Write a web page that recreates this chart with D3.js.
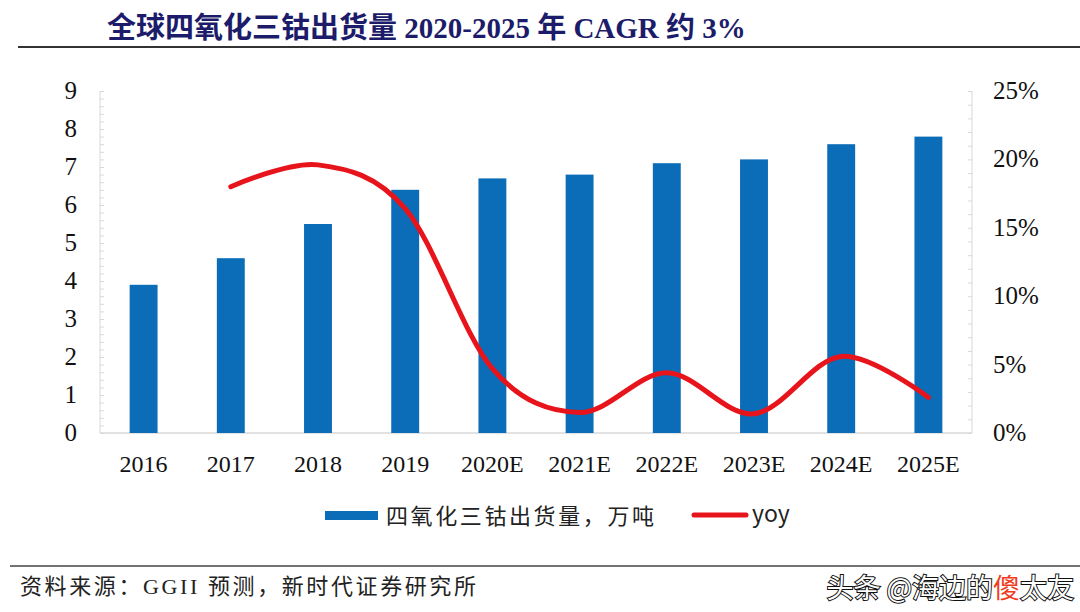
<!DOCTYPE html>
<html>
<head>
<meta charset="utf-8">
<script src="https://cdn.jsdelivr.net/npm/d3@7"></script>
<style>
  body { margin: 0; background: #fff; }
  svg { display: block; }
</style>
</head>
<body>
<svg id="chart" width="1080" height="612"></svg>
<script>
// data
const years = ["2016", "2017", "2018", "2019", "2020E", "2021E", "2022E", "2023E", "2024E", "2025E"];
const volume = [3.9, 4.6, 5.5, 6.4, 6.7, 6.8, 7.1, 7.2, 7.6, 7.8];
const yoyYears = ["2017", "2018", "2019", "2020E", "2021E", "2022E", "2023E", "2024E", "2025E"];
const yoy = [0.180, 0.196, 0.164, 0.047, 0.015, 0.044, 0.014, 0.056, 0.026];
const leftTicks = [0, 1, 2, 3, 4, 5, 6, 7, 8, 9];
const rightTicks = [0, 0.05, 0.10, 0.15, 0.20, 0.25];

const titleText = "全球四氧化三钴出货量 2020-2025 年 CAGR 约 3%";
const barLabel = "四氧化三钴出货量，万吨";
const lineLabel = "yoy";
const sourceText = "资料来源：GGII 预测，新时代证券研究所";

const serif = "'Liberation Serif', 'Times New Roman', 'Noto Sans CJK SC', serif";
const cjk = "'Noto Sans CJK SC', 'Liberation Serif', sans-serif";
const barColor = "#0b6cb8";
const lineColor = "#e8141c";
const axisColor = "#d9d9d9";

let svg = d3.select("#chart");

let plot = { left: 100, right: 972, top: 91, bottom: 433 };

let xScale = d3.scaleBand()
    .domain(years)
    .range([plot.left, plot.right])
    .paddingInner(0.68)
    .paddingOuter(0.34);

let yLeft = d3.scaleLinear()
    .domain([0, 9])
    .range([plot.bottom, plot.top]);

let yRight = d3.scaleLinear()
    .domain([0, 0.25])
    .range([plot.bottom, plot.top]);

// title + rule under it
svg.append("text")
    .attr("x", 107)
    .attr("y", 38)
    .text(titleText)
    .style("font-family", serif)
    .style("font-weight", "bold")
    .style("font-size", "29px")
    .style("fill", "#1c1c6a");
svg.append("line")
    .attr("x1", 18).attr("x2", 1080)
    .attr("y1", 47).attr("y2", 47)
    .attr("stroke", "#333")
    .attr("stroke-width", 2);

// left axis: line + minor ticks pointing inward
let leftAxis = svg.append("g")
    .attr("transform", "translate(" + plot.left + ",0)")
    .call(d3.axisRight(yLeft).tickValues(d3.range(0, 9.01, 0.2)).tickSize(4).tickFormat(""));
leftAxis.select(".domain").attr("stroke", axisColor).attr("d", "M0," + plot.bottom + "V" + plot.top);
leftAxis.selectAll(".tick line").attr("stroke", axisColor);

// right axis
let rightAxis = svg.append("g")
    .attr("transform", "translate(" + plot.right + ",0)")
    .call(d3.axisLeft(yRight).tickValues(d3.range(0, 0.2501, 0.01)).tickSize(4).tickFormat(""));
rightAxis.select(".domain").attr("stroke", axisColor).attr("d", "M0," + plot.bottom + "V" + plot.top);
rightAxis.selectAll(".tick line").attr("stroke", axisColor);

// bottom axis line
svg.append("line")
    .attr("x1", plot.left).attr("x2", plot.right)
    .attr("y1", plot.bottom).attr("y2", plot.bottom)
    .attr("stroke", axisColor)
    .attr("stroke-width", 1.5);

// tick labels
svg.selectAll(".leftLabel")
    .data(leftTicks)
    .enter()
    .append("text")
    .attr("x", 77)
    .attr("y", d => yLeft(d) + 8)
    .text(d => d)
    .style("font-family", serif)
    .style("font-size", "25px")
    .style("text-anchor", "end")
    .style("fill", "#111");

svg.selectAll(".rightLabel")
    .data(rightTicks)
    .enter()
    .append("text")
    .attr("x", 993)
    .attr("y", d => yRight(d) + 8)
    .text(d => Math.round(d * 100) + "%")
    .style("font-family", serif)
    .style("font-size", "25px")
    .style("fill", "#111");

svg.selectAll(".xLabel")
    .data(years)
    .enter()
    .append("text")
    .attr("x", d => xScale(d) + xScale.bandwidth() / 2)
    .attr("y", 472)
    .text(d => d)
    .style("font-family", serif)
    .style("font-size", "24px")
    .style("text-anchor", "middle")
    .style("fill", "#111");

// bars
svg.selectAll(".bar")
    .data(volume)
    .enter()
    .append("rect")
    .attr("x", (d, i) => xScale(years[i]))
    .attr("y", d => yLeft(d))
    .attr("width", xScale.bandwidth())
    .attr("height", d => yLeft(0) - yLeft(d))
    .attr("fill", barColor);

// smoothed yoy line
let line = d3.line()
    .x((d, i) => xScale(yoyYears[i]) + xScale.bandwidth() / 2)
    .y(d => yRight(d))
    .curve(d3.curveCardinal.tension(0));

svg.append("path")
    .datum(yoy)
    .attr("d", line)
    .attr("fill", "none")
    .attr("stroke", lineColor)
    .attr("stroke-width", 5)
    .attr("stroke-linecap", "round");

// legend
svg.append("rect")
    .attr("x", 325).attr("y", 511)
    .attr("width", 53).attr("height", 9)
    .attr("fill", barColor);
svg.append("text")
    .attr("x", 386).attr("y", 524)
    .text(barLabel)
    .style("font-family", cjk)
    .style("font-size", "22px")
    .style("letter-spacing", "2.6px")
    .style("fill", "#222");
svg.append("line")
    .attr("x1", 694).attr("x2", 746)
    .attr("y1", 515).attr("y2", 515)
    .attr("stroke", lineColor)
    .attr("stroke-width", 5)
    .attr("stroke-linecap", "round");
svg.append("text")
    .attr("x", 752).attr("y", 522)
    .text(lineLabel)
    .style("font-family", cjk)
    .style("font-size", "23px")
    .style("fill", "#222");

// source rule + text
svg.append("line")
    .attr("x1", 10).attr("x2", 1080)
    .attr("y1", 566).attr("y2", 566)
    .attr("stroke", "#444")
    .attr("stroke-width", 1.5);
svg.append("text")
    .attr("x", 20).attr("y", 594)
    .text(sourceText)
    .style("font-family", serif)
    .style("font-size", "22px")
    .style("letter-spacing", "2.6px")
    .style("fill", "#222");

// watermark
let wm = svg.append("text")
    .attr("x", 1074).attr("y", 598)
    .style("font-family", cjk)
    .style("font-size", "27px")
    .style("text-anchor", "end")
    .style("fill", "#fff")
    .style("stroke", "#111")
    .style("stroke-width", 2)
    .style("paint-order", "stroke");
wm.append("tspan").text("头条 @海边的");
wm.append("tspan").text("傻").style("fill", "#f03c1e").style("stroke", "none");
wm.append("tspan").text("太友");
</script>
</body>
</html>
